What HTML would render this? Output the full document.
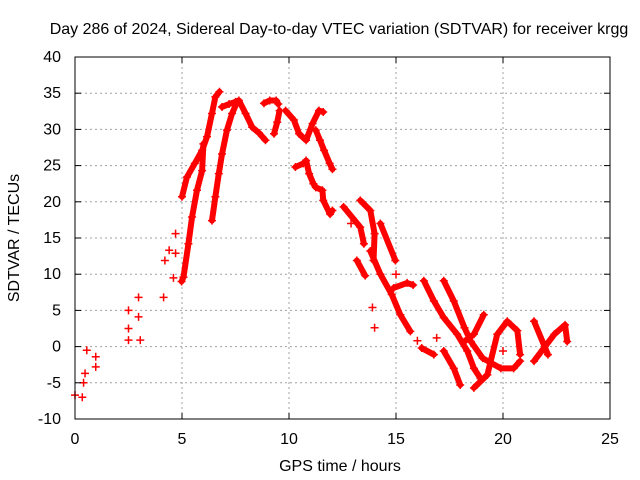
<!DOCTYPE html>
<html><head><meta charset="utf-8"><style>
body{margin:0;background:#fff;}
svg{display:block;font-family:"Liberation Sans",sans-serif;}
</style></head><body>
<svg id="chart" width="640" height="480">
<rect width="640" height="480" fill="#fff"/>
<text x="339" y="34" font-size="16" text-anchor="middle">Day 286 of 2024, Sidereal Day-to-day VTEC variation (SDTVAR) for receiver krgg</text>
<text x="340" y="471" font-size="16" text-anchor="middle">GPS time / hours</text>
<text x="0" y="0" font-size="16" text-anchor="middle" transform="translate(19,238) rotate(-90)">SDTVAR / TECUs</text>
<g id="grid"></g><g id="marks"></g><g id="axes"></g>
</svg>
<script>
const xTicks=[0,5,10,15,20,25];
const yTicks=[-10,-5,0,5,10,15,20,25,30,35,40];
const trackHours=[
[5.0,5.23,5.6,5.94,6.17,6.4,6.56,6.75],
[4.98,5.07,5.3,5.47,5.7,5.94,6.0],
[6.4,6.56,6.72,6.87,7.1,7.34,7.58,7.66,7.97,8.28,8.6,8.9],
[6.87,7.2,7.5],
[8.83,9.1,9.4,9.5],
[9.3,9.45,9.56],
[9.84,10.23,10.47,10.8,11.1,11.4,11.6],
[11.25,11.45,11.64,11.9,12.03],
[10.3,10.67,10.8,10.94,11.14,11.25,11.56,11.6,11.92,12.03],
[12.55,13.33,13.5],
[13.33,13.8,14.0,13.95],
[14.27,14.97],
[13.8,14.27,14.8,15.2,15.67],
[13.17,13.56],
[14.89,15.52,15.8],
[16.3,16.77,17.23,17.86,18.33,18.64,18.95],
[17.23,17.7,18.2,18.5,19.05,19.9,20.5,20.8],
[17.23,17.7,18.0],
[18.64,19.27,19.73,20.2,20.67,20.8],
[18.2,18.64,19.1],
[21.45,22.1],
[21.45,22.4,22.9,23.0],
[16.2,16.77]
];
const trackValues=[
[20.7,23.4,25.3,27.1,29,32.2,34.5,35.2],
[9.0,9.6,14.2,17.9,21.6,24.3,28],
[17.4,20.7,23.9,26.6,29.9,32.2,33.8,34,32.2,30.3,29.5,28.5],
[33.1,33.5,33.8],
[33.6,34,34,33.5],
[29.4,31,32.6],
[32.6,31.3,29.4,28.5,30.8,32.6,32.4],
[29.9,28.5,27.1,25.3,24.5],
[24.8,25.3,25.7,23.9,22.5,22,21.6,20.2,18.3,18.8],
[19.3,16.5,14.2],
[20.2,18.8,15.6,11.9],
[17,11.9],
[13.2,10,7.2,4.4,2.1],
[11.9,9.8],
[8.1,8.8,8.5],
[9.1,6.3,4,1.7,-0.6,-3,-4.4],
[9.1,6.3,2.6,0.7,-1.6,-3,-3,-2],
[-0.6,-3,-5.3],
[-5.7,-3.9,1.7,3.5,2.2,-1.1],
[0.7,1.7,4.4],
[3.5,-1.1],
[-2,1.7,3,0.7],
[-0.2,-1.1]
];
const pointHours=[0,0.34,0.4,0.47,0.55,0.97,0.97,2.5,2.5,2.5,2.97,2.97,3.05,4.14,4.2,4.4,4.7,4.7,4.6,13.9,14.0,16.9,16.0,20.0,12.9,15.0];
const pointValues=[-6.7,-7,-5,-3.7,-0.5,-1.4,-2.8,5,0.9,2.5,6.8,4.1,0.9,6.8,11.9,13.3,15.6,12.9,9.5,5.4,2.6,1.2,0.8,-0.6,17,10];
const X=h=>75+h*21.4, Y=v=>57+(40-v)*7.24;
const NS="http://www.w3.org/2000/svg";
function mk(t,a,p){const e=document.createElementNS(NS,t);for(const k in a)e.setAttribute(k,a[k]);p.appendChild(e);return e;}
const grid=document.getElementById('grid'),marks=document.getElementById('marks'),axes=document.getElementById('axes');
xTicks.forEach(t=>{
 if(t>0&&t<25){const g=mk('line',{x1:X(t),x2:X(t),y1:57,y2:419,stroke:'#a0a0a0','stroke-dasharray':'2,3'},grid);
 
 }
 const l=mk('text',{x:X(t),y:444,'font-size':16,'text-anchor':'middle'},axes);l.textContent=t;
 
 
 mk('line',{x1:X(t),x2:X(t),y1:419,y2:413,stroke:'#000'},axes);
 mk('line',{x1:X(t),x2:X(t),y1:57,y2:63,stroke:'#000'},axes);
});
yTicks.forEach(t=>{
 if(t>-10&&t<40){const g=mk('line',{x1:75,x2:610,y1:Y(t),y2:Y(t),stroke:'#a0a0a0','stroke-dasharray':'2,3'},grid);
 
 }
 const l=mk('text',{x:61,y:Y(t)+5,'font-size':16,'text-anchor':'end'},axes);l.textContent=t;
 
 
 mk('line',{x1:75,x2:81,y1:Y(t),y2:Y(t),stroke:'#000'},axes);
 mk('line',{x1:604,x2:610,y1:Y(t),y2:Y(t),stroke:'#000'},axes);
});
const fr=mk('rect',{x:75,y:57,width:535,height:362,fill:'none',stroke:'#000'},axes);


function plus(h,v){const p=mk('path',{d:`M${X(h)-4},${Y(v)}h8M${X(h)},${Y(v)-4}v8`,stroke:'#f00','stroke-width':1.5},marks);
 
 }
trackHours.forEach((hs,i)=>{
 const vs=trackValues[i];
 const pl=mk('polyline',{points:hs.map((h,j)=>X(h)+','+Y(vs[j])).join(' '),fill:'none',stroke:'#f00','stroke-width':6,'stroke-linejoin':'round','stroke-linecap':'round'},marks);
 
 
 hs.forEach((h,j)=>plus(h,vs[j]));
});
pointHours.forEach((h,i)=>plus(h,pointValues[i]));
</script>
</body></html>
